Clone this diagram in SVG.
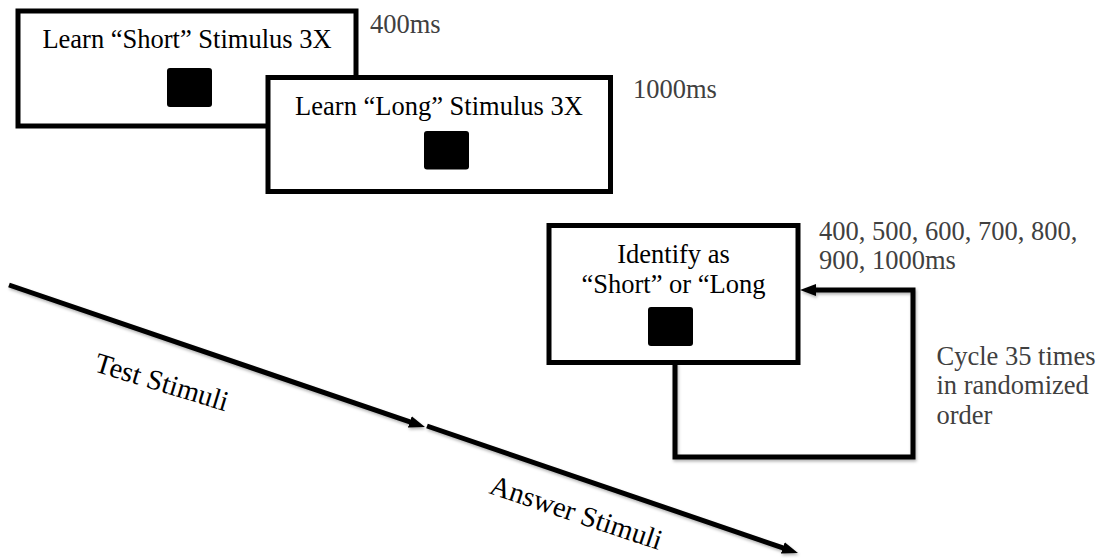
<svg xmlns="http://www.w3.org/2000/svg" width="1102" height="558" viewBox="0 0 1102 558">
<style>
.box{fill:#fff;stroke:#000;stroke-width:5}
.sq{fill:#000}
.t{font-family:"Liberation Serif","Times New Roman",serif;font-size:26.5px;fill:#000}
.g{font-family:"Liberation Serif","Times New Roman",serif;font-size:26.5px;fill:#404040}
.d{font-family:"Liberation Serif","Times New Roman",serif;font-size:28.5px;fill:#000}
.ln{fill:none;stroke:#000;stroke-width:5;stroke-linejoin:miter}
</style>
<defs>
<marker id="ah" viewBox="0 0 16 12" refX="4" refY="6" markerWidth="16" markerHeight="12" markerUnits="userSpaceOnUse" orient="auto">
<path d="M0,0 L16,6 L0,12 z" fill="#000"/>
</marker>
<filter id="sh" x="-10%" y="-10%" width="120%" height="130%">
<feDropShadow dx="1" dy="2" stdDeviation="1.5" flood-color="#000" flood-opacity="0.3"/>
</filter>
</defs>
<rect width="1102" height="558" fill="#fff"/>
<g id="learn-short">
<rect class="box" x="18" y="11" width="338" height="115"/>
<text class="t" x="187" y="48" text-anchor="middle">Learn “Short” Stimulus 3X</text>
<rect class="sq" x="167" y="68" width="45" height="39" rx="3"/>
</g>
<text class="g" x="370" y="33">400ms</text>
<g id="learn-long">
<rect class="box" x="268" y="77.5" width="342.5" height="114"/>
<text class="t" x="439" y="115" text-anchor="middle">Learn “Long” Stimulus 3X</text>
<rect class="sq" x="424" y="131" width="45" height="38.5" rx="3"/>
</g>
<text class="g" x="633" y="98">1000ms</text>
<g id="identify">
<rect class="box" x="549" y="225.5" width="249" height="137"/>
<text class="t" x="673.5" y="263" text-anchor="middle">Identify as</text>
<text class="t" x="673.5" y="293" text-anchor="middle">“Short” or “Long</text>
<rect class="sq" x="648" y="307" width="45" height="39" rx="3"/>
</g>
<text class="g" x="819" y="240">400, 500, 600, 700, 800,</text>
<text class="g" x="819" y="269">900, 1000ms</text>
<text class="g" x="936.5" y="365">Cycle 35 times</text>
<text class="g" x="936.5" y="394">in randomized</text>
<text class="g" x="936.5" y="424">order</text>
<g id="connectors" filter="url(#sh)">
<line class="ln" x1="9" y1="285" x2="413.6" y2="423.1" marker-end="url(#ah)"/>
<line class="ln" x1="427" y1="426" x2="786.6" y2="549.1" marker-end="url(#ah)"/>
<polyline class="ln" points="675,362.5 675,457 913,457 913,290 812,290" marker-end="url(#ah)"/>
</g>
<text class="d" transform="translate(93,371) rotate(17)">Test Stimuli</text>
<text class="d" transform="translate(488,493) rotate(18.5)">Answer Stimuli</text>
</svg>
